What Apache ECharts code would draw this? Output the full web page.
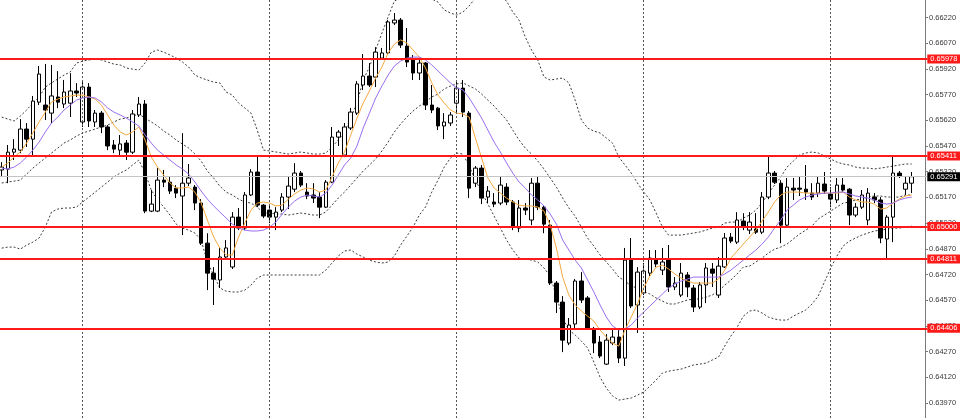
<!DOCTYPE html>
<html>
<head>
<meta charset="utf-8">
<script src="https://cdn.jsdelivr.net/npm/echarts@6.0.0/dist/echarts.min.js"></script>
<style>
html,body{margin:0;padding:0;background:#ffffff;}
#chart{width:960px;height:418px;}
</style>
</head>
<body>
<div id="chart"></div>
<script>
const barCount = 149;
const opens = [0.65330,0.65335,0.65434,0.65446,0.65569,0.65510,0.65726,0.65709,0.65662,0.65756,0.65715,0.65720,0.65791,0.65610,0.65814,0.65610,0.65662,0.65581,0.65476,0.65446,0.65487,0.65434,0.65651,0.65715,0.65090,0.65090,0.65271,0.65259,0.65224,0.65178,0.65253,0.65230,0.65137,0.64903,0.64728,0.64688,0.64822,0.64764,0.65055,0.64991,0.65184,0.65318,0.65125,0.65096,0.65055,0.65096,0.65172,0.65218,0.65312,0.65201,0.65184,0.65172,0.65113,0.65259,0.65522,0.65417,0.65575,0.65662,0.65826,0.65878,0.65872,0.65983,0.66013,0.66188,0.66205,0.66053,0.65972,0.65896,0.65954,0.65709,0.65691,0.65587,0.65604,0.65720,0.65808,0.65662,0.65253,0.65341,0.65172,0.65143,0.65137,0.65230,0.65143,0.64991,0.65108,0.65038,0.65253,0.65113,0.65008,0.64670,0.64559,0.64320,0.64431,0.64682,0.64583,0.64396,0.64326,0.64197,0.64320,0.64355,0.64232,0.64810,0.64542,0.64612,0.64728,0.64810,0.64746,0.64810,0.64647,0.64600,0.64717,0.64641,0.64530,0.64659,0.64752,0.64600,0.64764,0.64938,0.64909,0.65032,0.64979,0.64985,0.64967,0.65172,0.65312,0.65253,0.65008,0.65224,0.65224,0.65218,0.65195,0.65195,0.65248,0.65190,0.65155,0.65242,0.65218,0.65067,0.65113,0.65038,0.65172,0.65155,0.64927,0.65055,0.65312,0.65218,0.65253];
const closes = [0.65347,0.65434,0.65452,0.65569,0.65510,0.65732,0.65890,0.65680,0.65762,0.65726,0.65785,0.65791,0.65779,0.65814,0.65616,0.65662,0.65581,0.65470,0.65452,0.65482,0.65434,0.65657,0.65715,0.65090,0.65131,0.65271,0.65259,0.65207,0.65195,0.65253,0.65283,0.65137,0.64903,0.64728,0.64693,0.64822,0.64875,0.65055,0.64991,0.65184,0.65318,0.65125,0.65061,0.65055,0.65084,0.65172,0.65236,0.65312,0.65242,0.65178,0.65166,0.65113,0.65259,0.65522,0.65551,0.65581,0.65668,0.65832,0.65878,0.65826,0.66018,0.66013,0.66194,0.66205,0.66059,0.65960,0.65896,0.65954,0.65709,0.65680,0.65587,0.65610,0.65651,0.65808,0.65668,0.65224,0.65341,0.65166,0.65207,0.65131,0.65242,0.65143,0.64996,0.65108,0.65096,0.65253,0.65113,0.65014,0.64670,0.64559,0.64337,0.64425,0.64682,0.64571,0.64408,0.64320,0.64244,0.64337,0.64355,0.64232,0.64804,0.64536,0.64734,0.64740,0.64816,0.64781,0.64793,0.64647,0.64670,0.64728,0.64647,0.64530,0.64659,0.64758,0.64728,0.64769,0.64933,0.64915,0.65038,0.64997,0.65026,0.64967,0.65172,0.65312,0.65259,0.65008,0.65230,0.65213,0.65218,0.65201,0.65172,0.65253,0.65207,0.65160,0.65242,0.65213,0.65067,0.65113,0.65184,0.65195,0.65155,0.64933,0.65055,0.65312,0.65295,0.65253,0.65291];
const lows = [0.65295,0.65253,0.65388,0.65428,0.65464,0.65411,0.65709,0.65622,0.65604,0.65691,0.65691,0.65639,0.65756,0.65581,0.65581,0.65581,0.65545,0.65446,0.65428,0.65417,0.65388,0.65423,0.65639,0.65078,0.65084,0.65084,0.65230,0.65190,0.65166,0.64950,0.65236,0.65096,0.64892,0.64629,0.64542,0.64641,0.64810,0.64752,0.64979,0.64979,0.65178,0.65113,0.65049,0.65020,0.64979,0.65084,0.65102,0.65201,0.65230,0.65160,0.65137,0.65049,0.65108,0.65253,0.65470,0.65405,0.65563,0.65651,0.65797,0.65814,0.65814,0.65972,0.66001,0.66176,0.66042,0.65931,0.65855,0.65855,0.65680,0.65662,0.65563,0.65510,0.65587,0.65668,0.65639,0.65166,0.65230,0.65131,0.65137,0.65113,0.65125,0.65125,0.64979,0.64967,0.65067,0.65008,0.65096,0.64961,0.64659,0.64495,0.64267,0.64308,0.64396,0.64553,0.64396,0.64261,0.64232,0.64192,0.64308,0.64203,0.64186,0.64524,0.64379,0.64600,0.64711,0.64763,0.64717,0.64618,0.64629,0.64588,0.64588,0.64501,0.64518,0.64553,0.64647,0.64583,0.64758,0.64903,0.64898,0.64979,0.64956,0.64956,0.64956,0.65160,0.65248,0.64903,0.64997,0.65155,0.65178,0.65155,0.65155,0.65172,0.65190,0.65113,0.65137,0.65201,0.65008,0.65055,0.65102,0.65008,0.65137,0.64903,0.64816,0.64909,0.65283,0.65184,0.65195];
const highs = [0.65376,0.65476,0.65510,0.65627,0.65604,0.65762,0.65937,0.65949,0.65943,0.65907,0.65855,0.65895,0.65837,0.65843,0.65837,0.65680,0.65674,0.65592,0.65505,0.65534,0.65505,0.65680,0.65756,0.65738,0.65213,0.65341,0.65330,0.65289,0.65242,0.65545,0.65365,0.65242,0.65160,0.64961,0.64763,0.64875,0.64921,0.65084,0.65108,0.65201,0.65335,0.65406,0.65131,0.65125,0.65113,0.65195,0.65289,0.65370,0.65324,0.65253,0.65253,0.65201,0.65271,0.65581,0.65563,0.65604,0.65692,0.65849,0.66007,0.65954,0.66047,0.66042,0.66205,0.66246,0.66217,0.66159,0.66001,0.65983,0.65960,0.65826,0.65697,0.65662,0.65668,0.65843,0.65855,0.65674,0.65353,0.65359,0.65236,0.65195,0.65295,0.65253,0.65155,0.65155,0.65137,0.65283,0.65289,0.65125,0.65038,0.64682,0.64594,0.64466,0.64694,0.64734,0.64594,0.64414,0.64361,0.64372,0.64396,0.64396,0.64875,0.64933,0.64763,0.64787,0.64863,0.64863,0.64875,0.64892,0.64705,0.64787,0.64734,0.64659,0.64676,0.64787,0.64787,0.64822,0.64962,0.64962,0.65084,0.65078,0.65084,0.65078,0.65201,0.65406,0.65324,0.65271,0.65283,0.65283,0.65295,0.65359,0.65253,0.65289,0.65318,0.65230,0.65283,0.65283,0.65224,0.65137,0.65213,0.65224,0.65195,0.65172,0.65067,0.65417,0.65324,0.65289,0.65318];
const maFast = [0.65347,0.65371,0.65406,0.65435,0.65487,0.65546,0.65610,0.65668,0.65727,0.65744,0.65756,0.65762,0.65767,0.65767,0.65756,0.65744,0.65709,0.65651,0.65592,0.65552,0.65534,0.65552,0.65581,0.65505,0.65406,0.65347,0.65300,0.65254,0.65225,0.65225,0.65230,0.65201,0.65137,0.65038,0.64939,0.64874,0.64834,0.64834,0.64939,0.65020,0.65096,0.65137,0.65143,0.65137,0.65120,0.65125,0.65160,0.65190,0.65213,0.65225,0.65219,0.65201,0.65213,0.65289,0.65371,0.65435,0.65534,0.65633,0.65721,0.65791,0.65867,0.65931,0.66013,0.66065,0.66089,0.66071,0.66030,0.65989,0.65925,0.65838,0.65767,0.65721,0.65680,0.65662,0.65657,0.65639,0.65517,0.65400,0.65283,0.65225,0.65195,0.65166,0.65143,0.65125,0.65120,0.65120,0.65114,0.65090,0.65009,0.64874,0.64705,0.64600,0.64542,0.64507,0.64477,0.64448,0.64396,0.64355,0.64320,0.64302,0.64396,0.64472,0.64548,0.64641,0.64711,0.64763,0.64775,0.64752,0.64723,0.64699,0.64682,0.64670,0.64670,0.64670,0.64670,0.64693,0.64746,0.64816,0.64857,0.64898,0.64939,0.64979,0.65032,0.65085,0.65143,0.65184,0.65201,0.65201,0.65201,0.65195,0.65195,0.65195,0.65195,0.65195,0.65195,0.65201,0.65172,0.65155,0.65143,0.65143,0.65131,0.65102,0.65108,0.65137,0.65160,0.65178,0.65184];
const maSlow = [0.65341,0.65336,0.65347,0.65371,0.65406,0.65446,0.65493,0.65552,0.65604,0.65639,0.65680,0.65709,0.65738,0.65750,0.65756,0.65750,0.65727,0.65692,0.65668,0.65651,0.65633,0.65610,0.65587,0.65534,0.65487,0.65446,0.65417,0.65388,0.65359,0.65336,0.65306,0.65260,0.65207,0.65160,0.65120,0.65085,0.65050,0.65014,0.64991,0.64979,0.64974,0.64974,0.64979,0.64997,0.65026,0.65073,0.65114,0.65149,0.65172,0.65184,0.65178,0.65172,0.65195,0.65242,0.65300,0.65359,0.65400,0.65470,0.65575,0.65662,0.65750,0.65820,0.65884,0.65937,0.65966,0.65983,0.65989,0.65989,0.65972,0.65943,0.65908,0.65873,0.65838,0.65808,0.65797,0.65750,0.65692,0.65633,0.65563,0.65493,0.65435,0.65371,0.65312,0.65260,0.65225,0.65184,0.65155,0.65120,0.65073,0.65014,0.64921,0.64863,0.64804,0.64758,0.64688,0.64618,0.64542,0.64472,0.64419,0.64396,0.64402,0.64425,0.64466,0.64501,0.64536,0.64571,0.64606,0.64641,0.64664,0.64682,0.64693,0.64705,0.64705,0.64705,0.64705,0.64705,0.64723,0.64746,0.64775,0.64804,0.64834,0.64863,0.64898,0.64939,0.64991,0.65038,0.65096,0.65125,0.65155,0.65172,0.65184,0.65190,0.65195,0.65195,0.65201,0.65201,0.65190,0.65178,0.65172,0.65166,0.65155,0.65137,0.65131,0.65137,0.65155,0.65166,0.65172];
const bandUpper = [0.65639,0.65627,0.65616,0.65645,0.65680,0.65721,0.65756,0.65814,0.65838,0.65861,0.65884,0.65902,0.65954,0.65966,0.65972,0.65978,0.65972,0.65960,0.65948,0.65943,0.65925,0.65919,0.65913,0.65954,0.66018,0.66030,0.66018,0.66001,0.65983,0.65960,0.65931,0.65884,0.65867,0.65855,0.65843,0.65838,0.65785,0.65767,0.65721,0.65692,0.65662,0.65563,0.65446,0.65441,0.65435,0.65429,0.65423,0.65429,0.65435,0.65429,0.65423,0.65423,0.65429,0.65464,0.65505,0.65552,0.65633,0.65721,0.65855,0.65931,0.66030,0.66129,0.66223,0.66316,0.66334,0.66345,0.66351,0.66345,0.66340,0.66328,0.66310,0.66264,0.66246,0.66234,0.66252,0.66287,0.66334,0.66357,0.66369,0.66363,0.66345,0.66316,0.66252,0.66205,0.66106,0.66030,0.65972,0.65873,0.65855,0.65861,0.65867,0.65838,0.65738,0.65622,0.65575,0.65557,0.65546,0.65517,0.65487,0.65406,0.65359,0.65312,0.65254,0.65201,0.65155,0.65079,0.64997,0.64950,0.64950,0.64950,0.64956,0.64962,0.64968,0.64979,0.64991,0.64997,0.65020,0.65026,0.65026,0.65050,0.65067,0.65096,0.65137,0.65195,0.65242,0.65289,0.65347,0.65382,0.65417,0.65429,0.65435,0.65429,0.65411,0.65394,0.65376,0.65365,0.65359,0.65347,0.65341,0.65341,0.65336,0.65341,0.65347,0.65353,0.65359,0.65365,0.65365];
const bandMiddle = [0.65254,0.65260,0.65265,0.65271,0.65306,0.65341,0.65371,0.65400,0.65429,0.65458,0.65487,0.65505,0.65528,0.65546,0.65557,0.65569,0.65581,0.65592,0.65610,0.65627,0.65633,0.65645,0.65657,0.65633,0.65610,0.65587,0.65557,0.65534,0.65505,0.65481,0.65458,0.65423,0.65382,0.65324,0.65283,0.65236,0.65201,0.65184,0.65160,0.65143,0.65137,0.65114,0.65079,0.65079,0.65073,0.65073,0.65067,0.65073,0.65079,0.65073,0.65067,0.65067,0.65085,0.65125,0.65166,0.65201,0.65242,0.65283,0.65324,0.65359,0.65394,0.65441,0.65493,0.65552,0.65598,0.65639,0.65674,0.65703,0.65727,0.65756,0.65773,0.65803,0.65820,0.65832,0.65838,0.65820,0.65803,0.65773,0.65738,0.65703,0.65662,0.65622,0.65563,0.65505,0.65458,0.65423,0.65382,0.65336,0.65283,0.65230,0.65166,0.65108,0.65061,0.64997,0.64933,0.64886,0.64834,0.64793,0.64752,0.64705,0.64682,0.64653,0.64641,0.64623,0.64606,0.64583,0.64565,0.64548,0.64548,0.64559,0.64571,0.64577,0.64577,0.64588,0.64600,0.64623,0.64658,0.64688,0.64723,0.64764,0.64769,0.64793,0.64816,0.64845,0.64868,0.64880,0.64898,0.64927,0.64956,0.64979,0.65003,0.65044,0.65067,0.65090,0.65114,0.65137,0.65143,0.65155,0.65160,0.65172,0.65178,0.65178,0.65172,0.65172,0.65172,0.65184,0.65184];
const bandLower = [0.64874,0.64880,0.64880,0.64868,0.64892,0.64909,0.64933,0.64997,0.65085,0.65102,0.65108,0.65108,0.65114,0.65143,0.65172,0.65201,0.65230,0.65260,0.65289,0.65312,0.65330,0.65359,0.65388,0.65312,0.65213,0.65155,0.65114,0.65067,0.65014,0.64991,0.64979,0.64962,0.64921,0.64793,0.64717,0.64641,0.64623,0.64618,0.64618,0.64629,0.64658,0.64699,0.64717,0.64717,0.64717,0.64717,0.64717,0.64717,0.64717,0.64717,0.64717,0.64717,0.64746,0.64787,0.64828,0.64857,0.64863,0.64839,0.64822,0.64804,0.64793,0.64787,0.64793,0.64828,0.64892,0.64944,0.64997,0.65067,0.65114,0.65201,0.65271,0.65347,0.65400,0.65429,0.65423,0.65353,0.65271,0.65201,0.65131,0.65061,0.64991,0.64921,0.64863,0.64816,0.64810,0.64804,0.64793,0.64758,0.64711,0.64594,0.64466,0.64396,0.64367,0.64332,0.64291,0.64209,0.64121,0.64057,0.64011,0.63987,0.63993,0.63999,0.64016,0.64034,0.64069,0.64104,0.64145,0.64156,0.64162,0.64168,0.64180,0.64192,0.64197,0.64203,0.64221,0.64238,0.64302,0.64361,0.64413,0.64477,0.64507,0.64513,0.64495,0.64472,0.64460,0.64454,0.64454,0.64477,0.64495,0.64513,0.64548,0.64594,0.64676,0.64758,0.64828,0.64886,0.64915,0.64933,0.64950,0.64962,0.64974,0.64979,0.64985,0.64991,0.64991,0.64997,0.65003];
const levels = [0.65978, 0.65411, 0.65000, 0.64811, 0.64406];
const lastPrice = 0.65291;
const yTicks = [0.66220,0.66070,0.65920,0.65770,0.65620,0.65470,0.65320,0.65170,0.65020,0.64870,0.64720,0.64570,0.64420,0.64270,0.64120,0.63970];
const separators = [13, 43, 73, 103, 133];
const yMin = 0.638825, yMax = 0.663221;

const categories = Array.from({length: barCount}, (_, i) => 'B' + (i + 1));
const candles = opens.map((o, i) => [o, closes[i], lows[i], highs[i]]);
const fmt = v => Number(v).toFixed(5);
const font = 'Liberation Sans, Arial, sans-serif';
const bandStyle = {color: '#3c3c3c', width: 1, type: [2, 2]};
const bandSeries = arr => ({type: 'line', data: arr, showSymbol: false, z: 2, silent: true, lineStyle: bandStyle, itemStyle: {color: '#3c3c3c'}});

const chart = echarts.init(document.getElementById('chart'), null, {renderer: 'canvas'});
chart.setOption({
  animation: false,
  backgroundColor: '#ffffff',
  grid: {left: -1.42, right: 32.7, top: 0, bottom: 0, containLabel: false, outerBoundsMode: 'none'},
  xAxis: {
    type: 'category', data: categories, boundaryGap: true,
    axisLine: {show: false}, axisTick: {show: false}, axisLabel: {show: false}, splitLine: {show: false}
  },
  yAxis: {
    type: 'value', position: 'right', min: yMin, max: yMax, offset: -2.3,
    axisLine: {show: true, lineStyle: {color: '#7a7a7a', width: 1}},
    axisTick: {show: true, customValues: yTicks, length: 3, lineStyle: {color: '#7a7a7a'}},
    axisLabel: {show: true, customValues: yTicks, formatter: fmt, color: '#3a3a3a', fontSize: 7.5, margin: 4, fontFamily: font},
    splitLine: {show: false}
  },
  series: [
    {
      type: 'line', data: [], z: 1, silent: true,
      markLine: {
        silent: true, symbol: 'none', animation: false, precision: 5,
        lineStyle: {color: '#c4c4c4', width: 1, type: 'solid'},
        label: {show: true, position: 'end', distance: 0, formatter: p => fmt(p.value), color: '#ffffff', backgroundColor: '#000000', fontSize: 7.5, padding: [1, 4, 0, 3], fontFamily: font},
        data: [{yAxis: lastPrice}]
      }
    },
    bandSeries(bandUpper),
    bandSeries(bandMiddle),
    bandSeries(bandLower),
    {
      type: 'candlestick', data: candles, barWidth: 4, z: 3,
      itemStyle: {color: '#ffffff', color0: '#000000', borderColor: '#000000', borderColor0: '#000000', borderWidth: 1},
      markLine: {
        silent: true, symbol: 'none', animation: false,
        lineStyle: {color: '#555555', width: 1, type: [2, 2]},
        label: {show: false},
        data: separators.map(i => ({xAxis: i}))
      }
    },
    {type: 'line', data: maFast, showSymbol: false, z: 4, silent: true, lineStyle: {color: '#f4a940', width: 1}, itemStyle: {color: '#f4a940'}},
    {type: 'line', data: maSlow, showSymbol: false, z: 4, silent: true, lineStyle: {color: '#9b6ff0', width: 1}, itemStyle: {color: '#9b6ff0'}},
    {
      type: 'line', data: [], z: 6, silent: true,
      markLine: {
        silent: true, symbol: 'none', animation: false, precision: 5,
        lineStyle: {color: '#ff1a1a', width: 2, type: 'solid'},
        label: {show: true, position: 'end', distance: 0, formatter: p => fmt(p.value), color: '#ffffff', backgroundColor: '#ff1a1a', fontSize: 7.5, padding: [1, 4, 0, 3], fontFamily: font},
        data: levels.map(v => ({yAxis: v}))
      }
    }
  ]
});
</script>
</body>
</html>
